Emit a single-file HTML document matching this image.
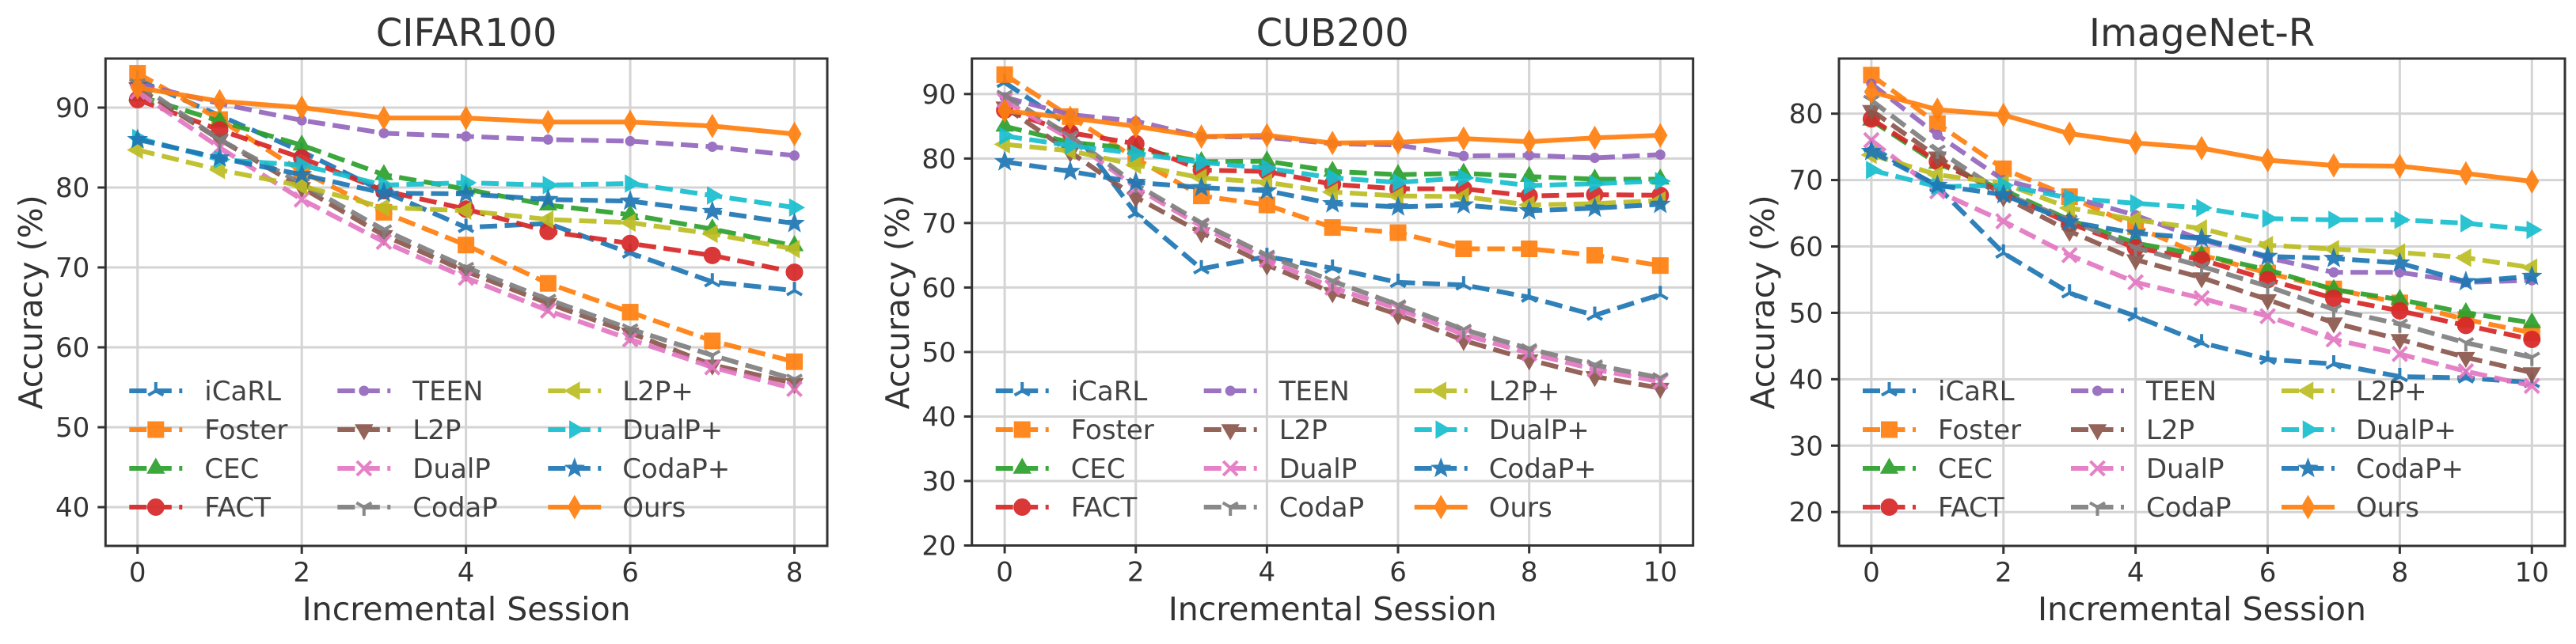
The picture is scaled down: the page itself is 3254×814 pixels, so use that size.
<!DOCTYPE html>
<html><head><meta charset="utf-8"><title>Accuracy across incremental sessions: CIFAR100, CUB200, ImageNet-R</title>
<style>html,body{margin:0;padding:0;background:#fff}svg{display:block}text{font-family:"DejaVu Sans","Liberation Sans",sans-serif;fill:#333}</style>
</head><body>
<svg id="fig" xmlns="http://www.w3.org/2000/svg" width="3254" height="814" viewBox="0 0 3254 814"></svg>
<script>
const seriesNames = ["iCaRL","Foster","CEC","FACT","TEEN","L2P","DualP","CodaP","L2P+","DualP+","CodaP+","Ours"];
const seriesColors = ["#1f77b4","#ff7f0e","#2ca02c","#d62728","#9467bd","#8c564b","#e377c2","#7f7f7f","#bcbd22","#17becf","#1f77b4","#ff7f0e"];
const seriesMarkers = ["tri_up","square","triangle_up","circle","point","triangle_down","x","tri_down","triangle_left","triangle_right","star","thin_diamond"];

const cifarSessions = [0,1,2,3,4,5,6,7,8];
const cifarICaRL  = [93.5,89.0,84.5,79.5,75.0,75.5,71.8,68.2,67.1];
const cifarFoster = [94.3,88.5,82.0,76.9,72.8,68.0,64.4,60.8,58.2];
const cifarCEC    = [91.5,88.3,85.3,81.6,79.8,77.8,76.6,74.8,72.7];
const cifarFACT   = [91.0,87.2,83.7,79.6,77.3,74.5,73.0,71.5,69.4];
const cifarTEEN   = [93.0,90.5,88.4,86.8,86.4,86.0,85.8,85.1,84.0];
const cifarL2P    = [92.5,86.0,80.0,74.0,69.5,65.5,61.8,57.8,55.5];
const cifarDualP  = [92.0,85.0,78.5,73.2,68.7,64.6,61.0,57.5,54.8];
const cifarCodaP  = [93.0,86.0,80.5,74.7,70.0,66.0,62.3,59.0,56.0];
const cifarL2PP   = [84.7,82.2,80.2,77.5,77.1,76.0,75.6,74.2,72.3];
const cifarDualPP = [86.2,83.5,82.8,80.3,80.6,80.3,80.5,79.0,77.5];
const cifarCodaPP = [86.0,83.7,81.6,79.3,79.2,78.5,78.3,77.0,75.5];
const cifarOurs   = [92.5,90.8,90.0,88.7,88.7,88.2,88.2,87.7,86.7];

const cubSessions = [0,1,2,3,4,5,6,7,8,9,10];
const cubICaRL  = [91.8,85.0,71.5,62.9,64.8,63.0,60.8,60.4,58.5,55.7,58.9];
const cubFoster = [93.0,86.5,80.0,74.2,72.8,69.3,68.5,66.0,66.0,65.0,63.4];
const cubCEC    = [85.0,82.5,81.5,79.5,79.6,78.0,77.5,77.7,77.2,76.8,76.8];
const cubFACT   = [87.5,84.0,82.3,78.2,78.0,76.0,75.3,75.3,74.2,74.4,74.3];
const cubTEEN   = [89.5,86.8,85.8,83.4,83.3,82.3,82.1,80.4,80.5,80.1,80.6];
const cubL2P    = [88.0,81.0,74.0,68.5,63.5,59.2,55.8,51.8,48.8,46.2,44.4];
const cubDualP  = [89.0,83.0,75.5,69.5,64.3,60.0,56.7,52.7,49.8,47.3,45.4];
const cubCodaP  = [89.8,83.5,76.0,70.0,65.0,61.0,57.3,53.5,50.5,48.0,46.0];
const cubL2PP   = [82.2,81.2,79.0,77.0,76.3,74.8,74.2,74.1,72.8,73.0,73.5];
const cubDualPP = [83.5,82.0,80.8,79.4,78.5,77.0,76.3,77.0,75.8,76.1,76.5];
const cubCodaPP = [79.5,78.0,76.3,75.5,75.0,73.0,72.5,72.8,71.9,72.3,72.9];
const cubOurs   = [87.4,86.3,85.0,83.4,83.6,82.4,82.5,83.1,82.6,83.2,83.6];

const inrSessions = [0,1,2,3,4,5,6,7,8,9,10];
const inrICaRL  = [75.0,69.0,59.0,53.0,49.5,45.5,43.0,42.3,40.4,40.2,39.5];
const inrFoster = [85.8,78.5,71.7,67.5,63.0,58.7,56.0,53.6,51.5,49.0,47.0];
const inrCEC    = [79.0,72.5,68.5,64.0,60.5,58.7,56.5,53.5,52.0,50.0,48.5];
const inrFACT   = [79.2,72.8,68.0,63.5,59.8,58.0,55.0,52.2,50.3,48.1,46.0];
const inrTEEN   = [84.5,76.8,70.0,67.5,64.7,61.0,58.3,56.1,56.1,54.6,54.9];
const inrL2P    = [80.5,73.5,67.5,62.3,58.0,55.3,52.0,48.5,46.0,43.3,41.0];
const inrDualP  = [76.0,68.3,63.8,58.7,54.6,52.2,49.5,46.0,43.8,41.2,39.0];
const inrCodaP  = [82.0,74.5,68.0,64.0,59.8,57.0,54.0,50.5,48.3,45.5,43.3];
const inrL2PP   = [73.8,70.8,69.5,65.8,64.0,62.7,60.2,59.6,59.1,58.3,56.8];
const inrDualPP = [71.5,69.0,69.2,67.3,66.5,65.8,64.2,64.0,64.0,63.5,62.5];
const inrCodaPP = [74.3,69.2,67.8,63.7,62.0,61.2,58.5,58.2,57.5,54.7,55.5];
const inrOurs   = [83.3,80.6,79.8,77.0,75.6,74.8,73.0,72.2,72.1,71.0,69.8];

const cifarXTicks = [0,2,4,6,8];
const cifarYTicks = [40,50,60,70,80,90];
const cubXTicks = [0,2,4,6,8,10];
const cubYTicks = [20,30,40,50,60,70,80,90];
const inrXTicks = [0,2,4,6,8,10];
const inrYTicks = [20,30,40,50,60,70,80];

const NS = "http://www.w3.org/2000/svg";
const fig = document.getElementById("fig");
function mk(tag, attrs, parent){const e=document.createElementNS(NS,tag);for(const k in attrs)e.setAttribute(k,attrs[k]);(parent||fig).appendChild(e);return e;}

function marker(g, type, cx, cy, color){
  let e;
  const f = {fill:color, stroke:color, "stroke-width":1};
  const tri = (angs, r) => angs.map(a=>[cx+r*Math.cos(a*Math.PI/180), cy-r*Math.sin(a*Math.PI/180)].join(",")).join(" ");
  if(type==="circle"){e=mk("circle",Object.assign({cx,cy,r:10.5},f),g);}
  else if(type==="point"){e=mk("circle",Object.assign({cx,cy,r:6},f),g);}
  else if(type==="square"){e=mk("rect",Object.assign({x:cx-10,y:cy-10,width:20,height:20},f),g);}
  else if(type==="triangle_up"){e=mk("polygon",Object.assign({points:tri([90,210,330],12.5)},f),g);}
  else if(type==="triangle_down"){e=mk("polygon",Object.assign({points:tri([270,30,150],12.5)},f),g);}
  else if(type==="triangle_left"){e=mk("polygon",Object.assign({points:tri([180,300,60],12.5)},f),g);}
  else if(type==="triangle_right"){e=mk("polygon",Object.assign({points:tri([0,120,240],12.5)},f),g);}
  else if(type==="thin_diamond"){e=mk("polygon",Object.assign({points:`${cx},${cy-14.5} ${cx+8.5},${cy} ${cx},${cy+14.5} ${cx-8.5},${cy}`},f),g);}
  else if(type==="star"){const p=[];for(let i=0;i<10;i++){const r=i%2?5.2:12.5;const a=(90+i*36)*Math.PI/180;p.push((cx+r*Math.cos(a))+","+(cy-r*Math.sin(a)));}e=mk("polygon",Object.assign({points:p.join(" ")},f),g);}
  else if(type==="x"){e=mk("path",{d:`M${cx-9},${cy-9}L${cx+9},${cy+9}M${cx-9},${cy+9}L${cx+9},${cy-9}`,stroke:color,"stroke-width":4,fill:"none"},g);}
  else if(type==="tri_up"||type==="tri_down"){const s=type==="tri_up"?1:-1;const r=11;
    e=mk("path",{d:`M${cx},${cy}L${cx},${cy-s*r}M${cx},${cy}L${cx-r*0.866},${cy+s*r*0.5}M${cx},${cy}L${cx+r*0.866},${cy+s*r*0.5}`,stroke:color,"stroke-width":4,fill:"none"},g);}
  
  
  return e;
}

function panel(cfg){
  const P = mk("g",{});
  
  
  const X = v => cfg.L + (v - cfg.xmin)/(cfg.xmax-cfg.xmin)*(cfg.R-cfg.L);
  const Y = v => cfg.B - (v - cfg.ymin)/(cfg.ymax-cfg.ymin)*(cfg.B-cfg.T);
  // grid
  cfg.xt.forEach(t=>{const l=mk("line",{x1:X(t),x2:X(t),y1:cfg.T,y2:cfg.B,stroke:"#d4d4d4","stroke-width":3},P);});
  cfg.yt.forEach(t=>{const l=mk("line",{x1:cfg.L,x2:cfg.R,y1:Y(t),y2:Y(t),stroke:"#d4d4d4","stroke-width":3},P);});
  // series
  cfg.data.forEach((vals,i)=>{
    const g=mk("g",{opacity:0.92},P);
    
    
    const pts=vals.map((v,j)=>X(cfg.xs[j])+","+Y(v)).join(" ");
    const ln=mk("polyline",{points:pts,fill:"none",stroke:seriesColors[i],"stroke-width":6,"stroke-dasharray":i===11?"none":"22 9.5","stroke-linejoin":"round"},g);
    
    
    vals.forEach((v,j)=>marker(g,seriesMarkers[i],X(cfg.xs[j]),Y(v),seriesColors[i]));
  });
  // spines
  const fr=mk("rect",{x:cfg.L,y:cfg.T,width:cfg.R-cfg.L,height:cfg.B-cfg.T,fill:"none",stroke:"#333","stroke-width":3},P);
  
  // ticks
  cfg.xt.forEach(t=>{mk("line",{x1:X(t),x2:X(t),y1:cfg.B,y2:cfg.B+10,stroke:"#333","stroke-width":3},P);
    const tx=mk("text",{x:X(t),y:cfg.B+45,"text-anchor":"middle","font-size":34},P);tx.textContent=t;
    });
  cfg.yt.forEach(t=>{mk("line",{x1:cfg.L-10,x2:cfg.L,y1:Y(t),y2:Y(t),stroke:"#333","stroke-width":3},P);
    const tx=mk("text",{x:cfg.L-20,y:Y(t)+12,"text-anchor":"end","font-size":34},P);tx.textContent=t;
    });
  const ti=mk("text",{x:(cfg.L+cfg.R)/2,y:58,"text-anchor":"middle","font-size":48},P);ti.textContent=cfg.title;
  
  const xl=mk("text",{x:(cfg.L+cfg.R)/2,y:784,"text-anchor":"middle","font-size":41},P);xl.textContent="Incremental Session";
  
  const yl=mk("text",{x:0,y:0,"text-anchor":"middle","font-size":41,transform:`translate(${cfg.yl+15},${(cfg.T+cfg.B)/2}) rotate(-90)`},P);yl.textContent="Accuracy (%)";
  
  // legend
  const lg=mk("g",{},P);
  
  const rows=[494,543,592,641], hx=[30,293,559], tx=[125,388,653];
  seriesNames.forEach((n,i)=>{
    const c=Math.floor(i/4), r=i%4;
    const e=mk("g",{opacity:0.92},lg);
    
    const x0=cfg.L+hx[c], y0=rows[r];
    mk("line",{x1:x0,x2:x0+67,y1:y0,y2:y0,stroke:seriesColors[i],"stroke-width":6,"stroke-dasharray":i===11?"none":"22 9.5"},e);
    marker(e,seriesMarkers[i],x0+33.5,y0,seriesColors[i]);
    const t=mk("text",{x:cfg.L+tx[c],y:y0+12,"font-size":34},e);t.textContent=n;
  });
}

panel({name:"cifar100",title:"CIFAR100",L:133.3,R:1045,T:74,B:690,xmin:-0.39,xmax:8.4,ymin:35.15,ymax:96.14,yl:38,xs:cifarSessions,xt:cifarXTicks,yt:cifarYTicks,
  data:[cifarICaRL,cifarFoster,cifarCEC,cifarFACT,cifarTEEN,cifarL2P,cifarDualP,cifarCodaP,cifarL2PP,cifarDualPP,cifarCodaPP,cifarOurs]});
panel({name:"cub200",title:"CUB200",L:1227.7,R:2138.7,T:74,B:689.5,xmin:-0.5,xmax:10.5,ymin:20,ymax:95.5,yl:1133,xs:cubSessions,xt:cubXTicks,yt:cubYTicks,
  data:[cubICaRL,cubFoster,cubCEC,cubFACT,cubTEEN,cubL2P,cubDualP,cubCodaP,cubL2PP,cubDualPP,cubCodaPP,cubOurs]});
panel({name:"imagenet-r",title:"ImageNet-R",L:2323,R:3240,T:74,B:690,xmin:-0.49,xmax:10.5,ymin:14.9,ymax:88.3,yl:2226,xs:inrSessions,xt:inrXTicks,yt:inrYTicks,
  data:[inrICaRL,inrFoster,inrCEC,inrFACT,inrTEEN,inrL2P,inrDualP,inrCodaP,inrL2PP,inrDualPP,inrCodaPP,inrOurs]});
</script>
</body></html>
